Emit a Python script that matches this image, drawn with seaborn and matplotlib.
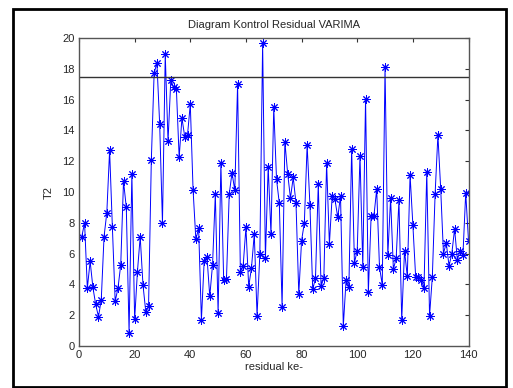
import numpy as np
import pandas as pd
import seaborn as sns
import matplotlib
matplotlib.use("Agg")
import matplotlib.pyplot as plt
from matplotlib.patches import Rectangle

# nilai T2 residual, titik ke-1 s/d ke-140
t2 = [
    7.1, 8.0, 3.75, 5.5, 3.8, 2.7, 1.9, 3.0, 7.1, 8.66,
    12.7, 7.7, 2.9, 3.75, 5.26, 10.7, 9.0, 0.86, 11.2, 1.73,
    4.83, 7.1, 3.96, 2.23, 2.6, 12.1, 17.7, 18.4, 14.4, 8.0,
    18.94, 13.3, 17.27, 16.8, 16.7, 12.25, 14.8, 13.6, 13.7, 15.7,
    10.15, 6.93, 7.64, 1.69, 5.55, 5.78, 3.22, 5.28, 9.87, 2.12,
    11.86, 4.29, 4.33, 9.87, 11.25, 10.1, 17.0, 4.83, 5.2, 7.7,
    3.85, 5.09, 7.27, 1.97, 5.97, 19.65, 5.69, 11.64, 7.27, 15.5,
    10.82, 9.26, 2.55, 13.27, 11.2, 9.6, 10.95, 9.26, 3.38, 6.84,
    8.0, 13.05, 9.16, 3.68, 4.39, 10.5, 3.9, 4.39, 11.86, 6.62,
    9.76, 9.52, 8.35, 9.74, 1.28, 4.29, 3.8, 12.77, 5.41, 6.19,
    12.37, 5.15, 16.04, 3.48, 8.44, 8.44, 10.17, 5.15, 3.96, 18.1,
    5.9, 9.59, 4.98, 5.69, 9.46, 1.69, 6.2, 4.52, 11.1, 7.88,
    4.5, 4.5, 4.31, 3.75, 11.32, 1.95, 4.5, 9.88, 13.7, 10.22,
    6.0, 6.7, 5.2, 6.0, 7.6, 5.6, 6.2, 5.9, 9.95, 6.84,
]
residual_ke = list(range(1, len(t2) + 1))
batas_kontrol = 17.5

df = pd.DataFrame({"residual_ke": residual_ke, "T2": t2})

sns.set_style("white")
plt.rcParams["font.family"] = ["Liberation Sans", "DejaVu Sans"]
plt.rcParams["font.size"] = 8

fig = plt.figure(figsize=(5.13, 3.88), dpi=100)
ax = fig.add_axes([79 / 513, 42 / 388, 389.5 / 513, 308 / 388])

# marker asterisk ala MATLAB ('+' dan 'x' ditumpuk)
sns.lineplot(data=df, x="residual_ke", y="T2", ax=ax, color="blue",
             linewidth=0.7, marker=(8, 2, 0), markersize=6,
             markeredgecolor="blue", markeredgewidth=0.7)
ax.axhline(batas_kontrol, color="#333333", linewidth=1.0)

ax.set_xlim(0, 140)
ax.set_ylim(0, 20)
ax.set_xticks(range(0, 141, 20))
ax.set_yticks(range(0, 21, 2))
ax.tick_params(direction="in", length=3, width=0.8, color="#333333",
               top=True, right=True, labelsize=8, pad=3)
for s in ax.spines.values():
    s.set_color("#555555")
    s.set_linewidth(1.0)
    s.set_visible(True)

ax.set_title("Diagram Kontrol Residual VARIMA", fontsize=8, pad=7)
ax.set_xlabel("residual ke-", fontsize=8, labelpad=1)
ax.set_ylabel("T2", fontsize=8, labelpad=6)

# bingkai hitam di sekeliling gambar
fig.patches.append(Rectangle((13 / 513, 1.5 / 388), 493 / 513, 377.5 / 388,
                             transform=fig.transFigure, fill=False,
                             edgecolor="black", linewidth=2.0))

fig.savefig("out.png", dpi=100)
